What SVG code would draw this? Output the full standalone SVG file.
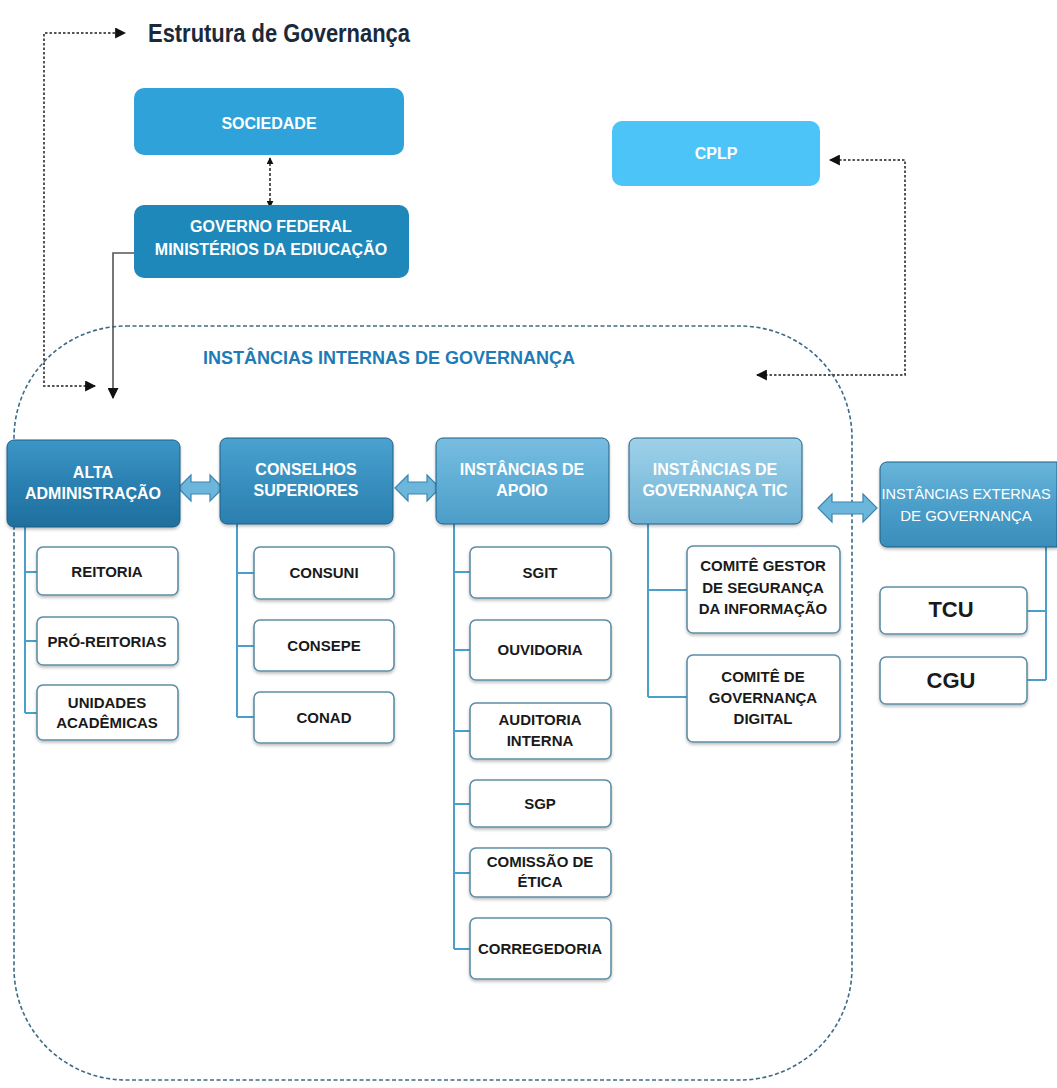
<svg xmlns="http://www.w3.org/2000/svg" width="1057" height="1088" viewBox="0 0 1057 1088">
<style>
text{font-family:"Liberation Sans",Arial,sans-serif;font-weight:bold;text-anchor:middle}
.hw{fill:#ffffff;font-size:16px}
.cb{fill:#1a1a1a;font-size:15px}
.child{fill:#ffffff;stroke:#5d8ea6;stroke-width:1.6}
.tree{fill:none;stroke:#4a9fcc;stroke-width:2}
.barrow{fill:#6cb6dc;stroke:#3a86b0;stroke-width:1.2}
.dot{fill:none;stroke:#555;stroke-width:2;stroke-dasharray:2.5 2}
.hdr{stroke:#1f5f85;stroke-width:1}
</style>
<defs>
<marker id="ah" viewBox="0 0 10 10" refX="9" refY="5" markerWidth="7" markerHeight="7" orient="auto-start-reverse" markerUnits="userSpaceOnUse"><path d="M0,0 L10,5 L0,10 Z" fill="#111"/></marker>
<marker id="ahb" viewBox="0 0 10 10" refX="9" refY="5" markerWidth="11" markerHeight="11" orient="auto-start-reverse" markerUnits="userSpaceOnUse"><path d="M0,0 L10,5 L0,10 Z" fill="#111"/></marker>
<linearGradient id="gA" x1="0" y1="0" x2="0" y2="1"><stop offset="0" stop-color="#3b96c6"/><stop offset="0.5" stop-color="#2a80b1"/><stop offset="1" stop-color="#1f6f9d"/></linearGradient>
<linearGradient id="gB" x1="0" y1="0" x2="0" y2="1"><stop offset="0" stop-color="#4aa2cf"/><stop offset="0.5" stop-color="#3890bf"/><stop offset="1" stop-color="#2b7fae"/></linearGradient>
<linearGradient id="gC" x1="0" y1="0" x2="0" y2="1"><stop offset="0" stop-color="#79bde0"/><stop offset="0.5" stop-color="#60aed6"/><stop offset="1" stop-color="#4c9dc7"/></linearGradient>
<linearGradient id="gD" x1="0" y1="0" x2="0" y2="1"><stop offset="0" stop-color="#9fd1e8"/><stop offset="0.5" stop-color="#86c2df"/><stop offset="1" stop-color="#6eb1d3"/></linearGradient>
<linearGradient id="gE" x1="0" y1="0" x2="0" y2="1"><stop offset="0" stop-color="#6ab5db"/><stop offset="0.5" stop-color="#4b9fca"/><stop offset="1" stop-color="#3a8dba"/></linearGradient>
<filter id="sh" x="-10%" y="-10%" width="120%" height="130%"><feDropShadow dx="0" dy="2" stdDeviation="1.5" flood-color="#000" flood-opacity="0.25"/></filter>
</defs>

<text x="279" y="42" style="font-size:26px;fill:#1b2a3a" textLength="262" lengthAdjust="spacingAndGlyphs">Estrutura de Governança</text>

<g id="container">
<rect x="14" y="326" width="838" height="754" rx="112" ry="112" fill="none" stroke="#3d6b86" stroke-width="1.6" stroke-dasharray="4 2.5"/>
<text x="389" y="364" style="font-size:18px;fill:#1f7bb5">INSTÂNCIAS INTERNAS DE GOVERNANÇA</text>
</g>

<g id="connectors">
<path class="dot" d="M95,386 L44,386 L44,33 L125,33" marker-start="url(#ahb)" marker-end="url(#ahb)"/>
<path d="M270,158 L270,207" fill="none" stroke="#222" stroke-width="1.5" stroke-dasharray="3 2" marker-start="url(#ah)" marker-end="url(#ah)"/>
<path d="M113,398 L113,253 L148,253" fill="none" stroke="#555" stroke-width="1.6" marker-start="url(#ahb)" marker-end="url(#ahb)"/>
<path class="dot" d="M830,160 L905,160 L905,375 L757,375" marker-start="url(#ahb)" marker-end="url(#ahb)"/>
<path class="tree" d="M25,527 V713 M25,572 H37 M25,641 H37 M25,713 H37"/>
<path class="tree" d="M237,524 V717 M237,573 H254 M237,646 H254 M237,717 H254"/>
<path class="tree" d="M454,524 V949 M454,572 H470 M454,650 H470 M454,731 H470 M454,804 H470 M454,873 H470 M454,949 H470"/>
<path class="tree" d="M648,524 V697 M648,590 H687 M648,697 H687"/>
<path class="tree" d="M1046,547 V680 M1046,611 H1027 M1046,680 H1027"/>
<path class="barrow" d="M178,488 L191,475 L191,482 L210,482 L210,475 L223,488 L210,501 L210,494 L191,494 L191,501 Z"/>
<path class="barrow" d="M395,488 L408,475 L408,482 L427,482 L427,475 L440,488 L427,501 L427,494 L408,494 L408,501 Z"/>
<path class="barrow" d="M818,508 L832,494 L832,502 L863,502 L863,494 L877,508 L863,522 L863,514 L832,514 L832,522 Z"/>
</g>

<g id="sociedade">
<rect x="134" y="88" width="270" height="67" rx="10" fill="#2fa2d9"/>
<text class="hw" x="269" y="129">SOCIEDADE</text>
</g>
<g id="governo">
<rect x="134" y="205" width="275" height="73" rx="10" fill="#1f88ba"/>
<text class="hw" x="271" y="232">GOVERNO FEDERAL</text>
<text class="hw" x="271" y="255">MINISTÉRIOS DA EDIUCAÇÃO</text>
</g>
<g id="cplp">
<rect x="612" y="121" width="208" height="65" rx="10" fill="#4cc4f8"/>
<text class="hw" x="716" y="159">CPLP</text>
</g>

<g id="alta">
<rect class="hdr" x="7" y="440" width="173" height="87" rx="7" fill="url(#gA)" filter="url(#sh)"/>
<text class="hw" x="93" y="478">ALTA</text>
<text class="hw" x="93" y="499">ADMINISTRAÇÃO</text>
</g>
<g id="conselhos">
<rect class="hdr" x="220" y="438" width="173" height="86" rx="7" fill="url(#gB)" filter="url(#sh)"/>
<text class="hw" x="306" y="475">CONSELHOS</text>
<text class="hw" x="306" y="496">SUPERIORES</text>
</g>
<g id="apoio">
<rect class="hdr" x="436" y="438" width="173" height="86" rx="7" fill="url(#gC)" filter="url(#sh)"/>
<text class="hw" x="522" y="475">INSTÂNCIAS DE</text>
<text class="hw" x="522" y="496">APOIO</text>
</g>
<g id="tic">
<rect class="hdr" x="629" y="438" width="173" height="86" rx="7" fill="url(#gD)" filter="url(#sh)"/>
<text class="hw" x="715" y="475">INSTÂNCIAS DE</text>
<text class="hw" x="715" y="496">GOVERNANÇA TIC</text>
</g>
<g id="externas">
<path class="hdr" d="M887,462 H1057 V547 H887 A7,7 0 0 1 880,540 V469 A7,7 0 0 1 887,462 Z" fill="url(#gE)" filter="url(#sh)"/>
<text class="hw" x="966" y="499" style="font-weight:normal;font-size:14.5px">INSTÂNCIAS EXTERNAS</text>
<text class="hw" x="966" y="521" style="font-weight:normal;font-size:15px">DE GOVERNANÇA</text>
</g>

<g id="reitoria"><rect class="child" x="37" y="547" width="141" height="48" rx="6" filter="url(#sh)"/><text class="cb" x="107" y="577">REITORIA</text></g>
<g id="pro-reitorias"><rect class="child" x="37" y="617" width="141" height="48" rx="6" filter="url(#sh)"/><text class="cb" x="107" y="647">PRÓ-REITORIAS</text></g>
<g id="unidades"><rect class="child" x="37" y="685" width="141" height="55" rx="6" filter="url(#sh)"/><text class="cb" x="107" y="708">UNIDADES</text><text class="cb" x="107" y="728">ACADÊMICAS</text></g>

<g id="consuni"><rect class="child" x="254" y="547" width="140" height="52" rx="6" filter="url(#sh)"/><text class="cb" x="324" y="578">CONSUNI</text></g>
<g id="consepe"><rect class="child" x="254" y="620" width="140" height="51" rx="6" filter="url(#sh)"/><text class="cb" x="324" y="651">CONSEPE</text></g>
<g id="conad"><rect class="child" x="254" y="692" width="140" height="51" rx="6" filter="url(#sh)"/><text class="cb" x="324" y="723">CONAD</text></g>

<g id="sgit"><rect class="child" x="470" y="547" width="141" height="51" rx="6" filter="url(#sh)"/><text class="cb" x="540" y="578">SGIT</text></g>
<g id="ouvidoria"><rect class="child" x="470" y="620" width="141" height="60" rx="6" filter="url(#sh)"/><text class="cb" x="540" y="655">OUVIDORIA</text></g>
<g id="auditoria"><rect class="child" x="470" y="703" width="141" height="56" rx="6" filter="url(#sh)"/><text class="cb" x="540" y="725">AUDITORIA</text><text class="cb" x="540" y="746">INTERNA</text></g>
<g id="sgp"><rect class="child" x="470" y="780" width="141" height="47" rx="6" filter="url(#sh)"/><text class="cb" x="540" y="809">SGP</text></g>
<g id="comissao"><rect class="child" x="470" y="848" width="141" height="49" rx="6" filter="url(#sh)"/><text class="cb" x="540" y="867">COMISSÃO DE</text><text class="cb" x="540" y="887">ÉTICA</text></g>
<g id="corregedoria"><rect class="child" x="470" y="918" width="141" height="61" rx="6" filter="url(#sh)"/><text class="cb" x="540" y="954">CORREGEDORIA</text></g>

<g id="comite-gestor"><rect class="child" x="687" y="546" width="153" height="87" rx="6" filter="url(#sh)"/><text class="cb" x="763" y="571">COMITÊ GESTOR</text><text class="cb" x="763" y="593">DE SEGURANÇA</text><text class="cb" x="763" y="614">DA INFORMAÇÃO</text></g>
<g id="comite-digital"><rect class="child" x="687" y="655" width="153" height="87" rx="6" filter="url(#sh)"/><text class="cb" x="763" y="682">COMITÊ DE</text><text class="cb" x="763" y="703">GOVERNANÇA</text><text class="cb" x="763" y="724">DIGITAL</text></g>

<g id="tcu"><rect class="child" x="880" y="587" width="147" height="47" rx="6" filter="url(#sh)"/><text class="cb" x="951" y="617" style="font-size:22px">TCU</text></g>
<g id="cgu"><rect class="child" x="880" y="657" width="147" height="47" rx="6" filter="url(#sh)"/><text class="cb" x="951" y="688" style="font-size:22px">CGU</text></g>
</svg>
